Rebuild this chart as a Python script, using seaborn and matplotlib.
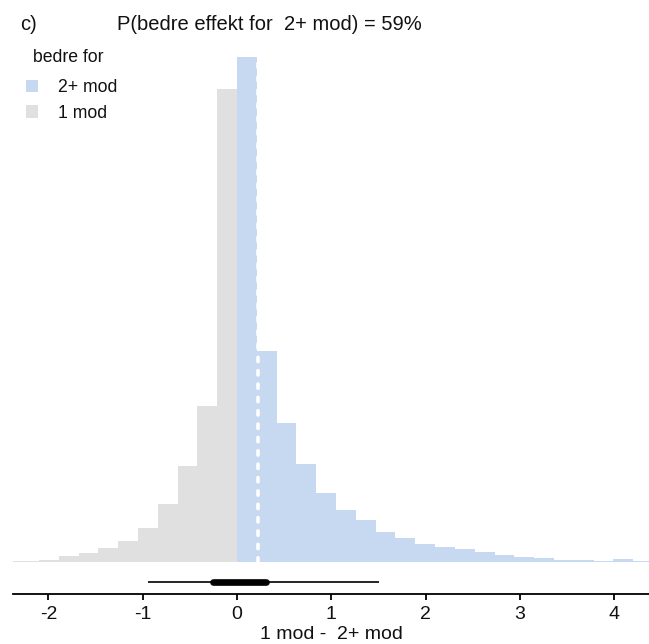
import numpy as np
import pandas as pd
import seaborn as sns
import matplotlib.pyplot as plt
from matplotlib.patches import Patch

# histogram-søyler lest av bildet (relativ høyde), binbredde 0.21, kant i 0
bredde = 0.21
hoyde_1mod = [0.7, 0.7, 2.3, 5.7, 9.3, 14, 21, 34, 58, 96, 156, 473]  # fra -2.52 opp til 0
hoyde_2mod = [505, 211, 139, 98, 69, 52, 42, 30, 24, 18, 15, 13, 10, 7, 5,
              4, 2, 2.3, 1.3, 3, 0.7]  # fra 0 og oppover
gjennomsnitt = 0.22
intervall_95 = [-0.94, 1.51]
intervall_66 = [-0.25, 0.31]
ticks = [-2, -1, 0, 1, 2, 3, 4]
grupper = ["2+ mod", "1 mod"]
farger = {"2+ mod": "#c6d9f0", "1 mod": "#e0e0e0"}

kanter = [round(i * bredde, 4) for i in range(-len(hoyde_1mod), len(hoyde_2mod) + 1)]
midt = [(a + b) / 2 for a, b in zip(kanter[:-1], kanter[1:])]
df = pd.DataFrame({
    "x": midt,
    "w": hoyde_1mod + hoyde_2mod,
    "bedre for": ["1 mod"] * len(hoyde_1mod) + ["2+ mod"] * len(hoyde_2mod),
})

sns.set_style("white")
plt.rcParams["font.family"] = ["Liberation Sans", "DejaVu Sans"]
plt.rcParams["axes.unicode_minus"] = False

fig = plt.figure(figsize=(6.49, 6.44), dpi=100)
ax = fig.add_axes([13 / 649, 1 - 594 / 644, 1 - 13 / 649, 544 / 644])

sns.histplot(data=df, x="x", weights="w", hue="bedre for", bins=kanter,
             element="step", fill=True, alpha=1, linewidth=0,
             palette=farger, legend=False, ax=ax)

# gjennomsnitt som hvit stiplet linje
ax.plot([gjennomsnitt, gjennomsnitt], [0, max(hoyde_2mod)], color="white",
        lw=2.6, linestyle=(0, (1.2, 2.5)), dash_capstyle="round", zorder=5)

# intervaller under fordelingen
ax.plot(intervall_95, [-20, -20], color="black", lw=1.2, solid_capstyle="butt")
ax.plot(intervall_66, [-20, -20], color="black", lw=4.8, solid_capstyle="round")

ax.set_xlim(-2.375, 4.368)
ax.set_ylim(-32, 512)
ax.set_yticks([])
ax.set_xticks(ticks)
ax.set_xticklabels([str(t) for t in ticks], fontsize=14, color="#111111")
ax.set_xlabel("1 mod -  2+ mod", fontsize=14, color="#111111", labelpad=2.5)
ax.set_ylabel("")
for s in ["top", "left", "right"]:
    ax.spines[s].set_visible(False)
ax.spines["bottom"].set_color("black")
ax.spines["bottom"].set_linewidth(1.3)
ax.tick_params(axis="x", direction="out", length=4, width=1.3, color="black",
               bottom=True, pad=4.5)

fig.text(20 / 649, 1 - 24 / 644, "c)", fontsize=14.5, ha="left", va="center",
         color="#111111")
fig.text(117 / 649, 1 - 24 / 644, "P(bedre effekt for  2+ mod) = 59%",
         fontsize=14.5, ha="left", va="center", color="#111111")

# legendetittel for seg, så avstanden blir som i originalen
fig.text(33 / 649, 1 - 57 / 644, "bedre for", fontsize=12.7, ha="left",
         va="center", color="#111111")
handles = [Patch(facecolor=farger[g], edgecolor="none") for g in grupper]
leg = ax.legend(handles, grupper, loc="upper left",
                bbox_to_anchor=(26 / 649, 1 - 79 / 644), bbox_transform=fig.transFigure,
                frameon=False, fontsize=12.7,
                handlelength=0.7, handleheight=0.7, handletextpad=1.1,
                labelspacing=0.5, borderpad=0, borderaxespad=0)
for t in leg.get_texts():
    t.set_color("#111111")

fig.savefig("out.png", dpi=100)
